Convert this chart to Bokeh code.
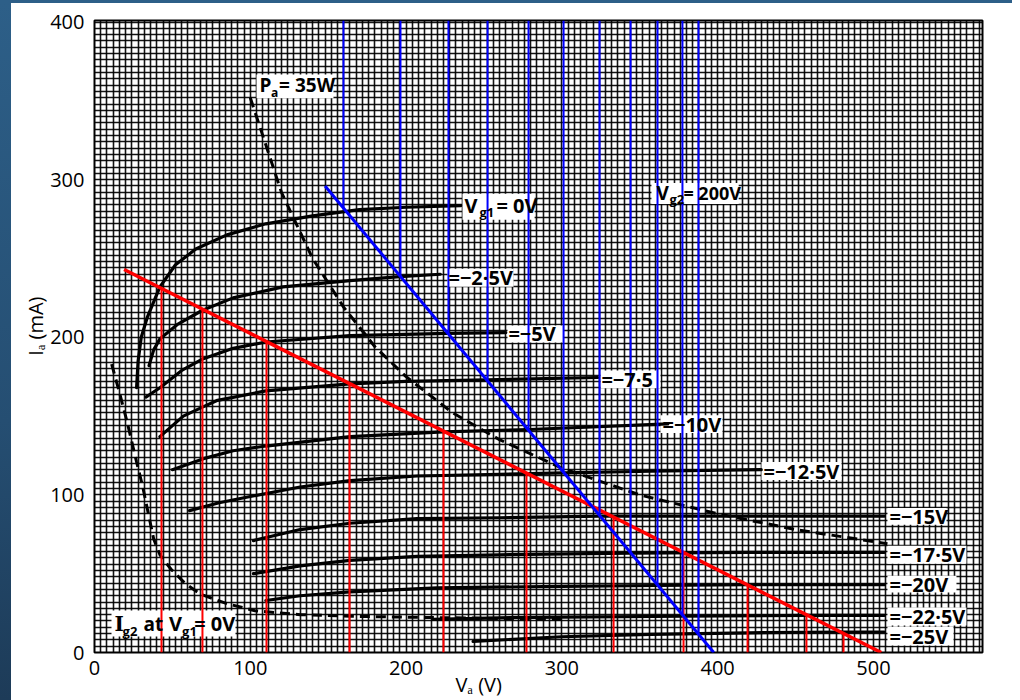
import numpy as np
from bokeh.plotting import figure
from bokeh.layouts import row, column
from bokeh.models import FixedTicker, SingleIntervalTicker, Label, Range1d, Spacer
from bokeh.embed import file_html
from bokeh.resources import INLINE

# ---------------- data ----------------
x_ticks = [0, 100, 200, 300, 400, 500]
y_ticks = [0, 100, 200, 300, 400]

# anode characteristics Ia (mA) vs Va (V) for each Vg1
va_g1_0 = [27, 28, 30, 34, 42, 52, 65, 85, 110, 140, 170, 200, 235]
ia_g1_0 = [168, 185, 200, 213, 232, 246, 256, 265, 272, 277, 281, 282.5, 283.5]

va_g1_m2_5 = [35, 38, 42, 53, 69, 89, 121, 164, 196, 222]
ia_g1_m2_5 = [182, 192, 199, 208, 217, 225, 232, 236, 238.5, 240]

va_g1_m5 = [33, 36, 42, 56, 69, 89, 110, 164, 227, 264]
ia_g1_m5 = [162, 164, 168, 179, 186, 193, 197, 201, 202.5, 203]

va_g1_m7_5 = [42, 57, 70, 79, 110, 164, 200, 252, 323]
ia_g1_m7_5 = [137, 150, 156, 160, 166, 170.5, 172, 173, 174.5]

va_g1_m10 = [50, 70, 89, 110, 164, 224, 279, 368]
ia_g1_m10 = [116, 123, 128, 131, 137, 140, 141.5, 145]

va_g1_m12_5 = [61, 80, 100, 132, 164, 207, 260, 301, 357, 428]
ia_g1_m12_5 = [90, 95, 99, 105, 109, 112, 113, 114, 115, 116]

va_g1_m15 = [102, 132, 164, 207, 260, 324, 357, 420, 507]
ia_g1_m15 = [71, 78, 82, 85, 85.5, 86.5, 86.5, 86.5, 86.5]

va_g1_m17_5 = [102, 132, 164, 207, 260, 344, 420, 507]
ia_g1_m17_5 = [50, 55, 58.5, 61, 62, 63, 63.5, 63.5]

va_g1_m20 = [110, 132, 164, 220, 300, 361, 420, 507]
ia_g1_m20 = [33, 36, 38.5, 41, 42, 42.5, 43, 43]

va_g1_m22_5 = [217, 260, 300, 378, 457, 507]
ia_g1_m22_5 = [21, 22, 22.5, 23, 23.5, 23.5]

va_g1_m25 = [243, 300, 357, 388, 420, 481, 507]
ia_g1_m25 = [7, 10, 11.5, 12, 12.5, 13, 13]

# anode dissipation limit Pa = 35 W
va_pa = [100, 120, 140, 160, 180, 200, 230, 260, 300, 350, 400, 450, 509]
ia_pa = [352, 292, 250, 219, 194, 175, 152, 135, 117, 100, 88, 78, 69]

# screen current Ig2 at Vg1 = 0 V
va_ig2 = [11, 16, 21, 27, 31, 35, 38, 42, 49, 58, 68, 85, 103, 132, 164, 230, 303]
ia_ig2 = [183, 165, 146, 121, 105, 86, 72, 62, 53, 44, 37, 31, 26.5, 24, 23, 22, 21]

# load lines (end points) and their intersection voltages
red_line_va = [19, 505]
red_line_ia = [243, 0]
red_va = [43, 69.3, 110.4, 163.7, 224, 277.3, 333.2, 378.1, 419.2, 457, 480.8]

blue_line_va = [148, 397.5]
blue_line_ia = [296, 0]
blue_va = [159.8, 196.4, 227.2, 252.3, 278.6, 301.1, 324.2, 344.1, 361.4, 377.4, 387.7]

curve_labels = ["=−2·5V", "=−5V", "=−7·5", "=−10V", "=−12·5V",
                "=−15V", "=−17·5V", "=−20V", "=−22·5V", "=−25V"]

# ---------------- figure ----------------
FONT = "Open Sans"
XMAX, YMAX = 570, 401
NB = "\u00a0"

p = figure(width=1001, height=697, output_backend="svg", toolbar_location=None,
           x_range=Range1d(0, XMAX), y_range=Range1d(0, YMAX),
           min_border_left=83, min_border_right=30, min_border_top=17, min_border_bottom=38)
p.background_fill_color = "white"
p.border_fill_color = "white"
p.outline_line_color = "black"
p.outline_line_width = 2

for ax in (p.xaxis[0], p.yaxis[0]):
    ax.major_tick_line_color = None
    ax.minor_tick_line_color = None
    ax.axis_line_color = None
    ax.major_label_text_font = FONT
    ax.major_label_text_font_size = "20px"
    ax.major_label_text_color = "black"
    ax.axis_label_text_font = FONT
    ax.axis_label_text_font_size = "20px"
    ax.axis_label_text_font_style = "normal"
    ax.axis_label_text_color = "black"
p.xaxis.ticker = FixedTicker(ticks=x_ticks)
p.yaxis.ticker = FixedTicker(ticks=y_ticks)
p.xaxis.major_label_standoff = 2
p.yaxis.major_label_standoff = 4
p.xaxis.axis_label = "Vₐ  (V)" + NB * 22
p.xaxis.axis_label_standoff = -7
p.yaxis.axis_label = NB * 4 + "Iₐ (mA)"
p.yaxis.axis_label_standoff = -2

# graph paper
for g in (p.xgrid[0], p.ygrid[0]):
    g.ticker = SingleIntervalTicker(interval=4)
    g.grid_line_color = "black"
    g.grid_line_width = 1.6
    g.grid_line_alpha = 0.92

# white label boxes
box_l = [104.0, 236.2, 226.6, 265.1, 324.8, 363.3, 428.1, 509.0, 509.0, 509.0, 509.0, 509.0, 357.5, 10.9]
box_r = [153.4, 282.5, 269.0, 301.1, 363.3, 403.1, 479.5, 546.9, 559.7, 553.3, 559.7, 551.4, 413.5, 90.5]
box_t = [366.8, 291.0, 243.5, 207.5, 179.0, 150.5, 120.8, 91.7, 67.7, 48.7, 28.5, 16.4, 297.9, 26.6]
box_b = [351.7, 274.5, 232.1, 196.7, 167.6, 139.2, 109.4, 81.0, 56.3, 38.0, 17.1, 4.4, 284.6, 10.1]
p.quad(left=box_l, right=box_r, top=box_t, bottom=box_b, fill_color="white", line_color=None)

# characteristic curves
for xs, ys in [(va_g1_0, ia_g1_0), (va_g1_m2_5, ia_g1_m2_5), (va_g1_m5, ia_g1_m5),
               (va_g1_m7_5, ia_g1_m7_5), (va_g1_m10, ia_g1_m10), (va_g1_m12_5, ia_g1_m12_5),
               (va_g1_m15, ia_g1_m15), (va_g1_m17_5, ia_g1_m17_5), (va_g1_m20, ia_g1_m20),
               (va_g1_m22_5, ia_g1_m22_5), (va_g1_m25, ia_g1_m25)]:
    p.line(xs, ys, line_color="black", line_width=3.2, line_join="round", line_cap="round")

p.line(va_pa, ia_pa, line_color="black", line_width=3, line_dash="10 6")
p.line(va_ig2, ia_ig2, line_color="black", line_width=3, line_dash="10 6")

# red load line and verticals
red_top = np.interp(red_va, red_line_va, red_line_ia)
p.segment(x0=red_va, y0=[0] * len(red_va), x1=red_va, y1=red_top, line_color="#ff0000", line_width=2)
p.line(red_line_va, red_line_ia, line_color="#ff0000", line_width=3.5)

# blue load line and verticals
blue_bot = np.interp(blue_va, blue_line_va, blue_line_ia)
p.segment(x0=blue_va, y0=blue_bot, x1=blue_va, y1=[YMAX] * len(blue_va), line_color="#0000ff", line_width=2)
p.line(blue_line_va, blue_line_ia, line_color="#0000ff", line_width=3)

# ---------------- texts ----------------
def lab(x, y, t, size=20, font=FONT, style="bold"):
    p.add_layout(Label(x=x, y=y, text=t, text_font=font, text_font_size=f"{size}px",
                       text_font_style=style, text_color="black",
                       text_baseline="middle", text_align="left"))

# Pa = 35W
lab(105.9, 359.9, "P", 19)
lab(113.3, 355.0, "a", 12)
lab(118.5, 359.9, "= 35W", 19)
# Vg1 = 0V
lab(237.5, 283.4, "V", 20)
lab(247.1, 279.6, "g1", 13)
lab(258.0, 283.4, "= 0V", 20)
# Vg2 = 200V
lab(360.7, 291.6, "V", 19)
lab(369.1, 287.8, "g2", 13)
lab(378.0, 291.6, "= 200V", 18)
# curve labels
lab_x = [227.2, 265.7, 325.4, 364.6, 429.4, 510.3, 510.3, 510.3, 510.3, 510.3]
lab_y = [237.8, 202.1, 173.3, 144.8, 115.1, 86.3, 62.0, 43.3, 22.8, 10.4]
for x, y, t in zip(lab_x, lab_y, curve_labels):
    lab(x, y, t, 20)
# Ig2 at Vg1 = 0V
lab(12.8, 18.3, "I", 20, "DejaVu Serif")
lab(18.0, 13.9, "g2", 13)
lab(31.5, 18.3, "at", 19)
lab(47.8, 18.3, "V", 20)
lab(56.2, 13.9, "g1", 13)
lab(64.0, 18.3, "= 0V", 20)

top_strip = Spacer(width=1012, height=3, styles={"background": "#2d5f88"})
left_strip = Spacer(width=11, height=697,
                    styles={"background": "linear-gradient(180deg, #2d5f88 0%, #254e72 60%, #1d3b58 100%)"})
layout = column(top_strip, row(left_strip, p, spacing=0), spacing=0)

open("out.html", "w").write(file_html(layout, INLINE))
